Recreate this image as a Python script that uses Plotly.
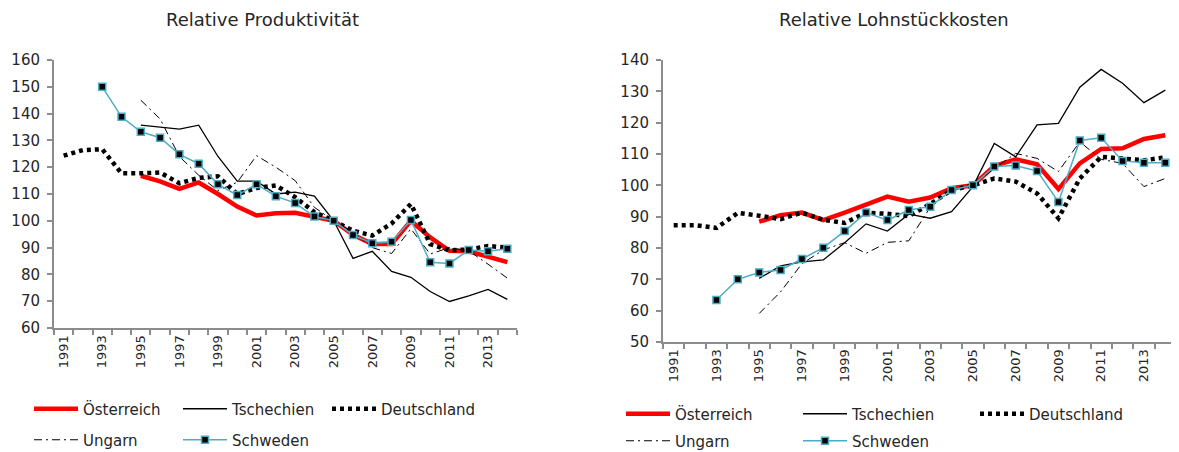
import plotly.graph_objects as go

years = list(range(1991, 2015))
tick_years = list(range(1991, 2015, 2))
N = None

series_names = ["Österreich", "Tschechien", "Deutschland", "Ungarn", "Schweden"]

# Relative Produktivität
prod_at = [N, N, N, N, 116.8, 114.7, 111.9, 114.3, 110.0, 105.3, 102.0, 102.8, 103.0, 101.3,
           100.0, 94.8, 91.3, 91.3, 100.0, 93.8, 88.8, 88.6, 86.6, 84.6]
prod_cz = [N, N, N, N, 135.7, 135.0, 134.2, 135.7, 124.0, 114.8, 114.8, 110.0, 110.7, 109.2,
           100.0, 86.0, 88.6, 81.1, 78.9, 73.6, 69.9, 72.0, 74.4, 70.7]
prod_de = [124.3, 126.4, 126.7, 117.7, 117.7, 118.0, 114.0, 116.0, 116.6, 110.0, 112.2, 113.2,
           108.8, 103.2, 100.0, 96.3, 94.5, 99.0, 106.3, 91.3, 89.0, 89.3, 90.6, 90.0]
prod_hu = [N, N, N, N, 145.0, 138.0, 124.0, 117.0, 111.3, 114.4, 124.3, 120.0, 115.0, 105.0,
           100.0, 95.7, 90.0, 87.8, 97.0, 87.6, 90.0, 88.8, 83.8, 78.6]
prod_se = [N, N, 150.0, 138.8, 133.2, 131.0, 124.8, 121.3, 113.6, 109.6, 113.6, 109.2, 106.6,
           101.6, 100.0, 94.7, 91.6, 92.2, 100.3, 84.5, 84.1, 89.1, 88.6, 89.6]

# Relative Lohnstückkosten
lsk_at = [N, N, N, N, 88.4, 90.5, 91.3, 88.9, 91.3, 93.7, 96.4, 94.8, 96.1, 99.1,
          100.0, 106.2, 108.3, 106.7, 98.8, 107.0, 111.6, 111.8, 114.8, 116.0]
lsk_cz = [N, N, N, N, 70.3, 74.3, 75.6, 76.2, 81.7, 87.7, 85.4, 90.8, 89.5, 91.6,
          99.6, 113.4, 109.1, 119.3, 119.8, 131.3, 137.0, 132.6, 126.4, 130.4]
lsk_de = [87.3, 87.3, 86.4, 91.2, 90.3, 89.2, 91.3, 89.0, 88.0, 91.3, 90.9, 90.2, 94.0, 98.5,
          100.0, 102.2, 101.2, 97.4, 89.5, 102.2, 109.1, 108.6, 108.0, 108.9]
lsk_hu = [N, N, N, N, 59.1, 66.0, 75.0, 79.4, 81.7, 78.3, 81.8, 82.3, 93.0, 98.5,
          100.0, 105.4, 110.2, 108.6, 104.4, 113.9, 108.3, 107.0, 99.6, 102.2]
lsk_se = [N, N, 63.4, 70.0, 72.2, 73.0, 76.5, 80.1, 85.4, 91.3, 88.9, 92.1, 93.2, 98.5,
          100.0, 106.0, 106.3, 104.6, 94.7, 114.3, 115.2, 107.8, 107.2, 107.2]

FONT = "DejaVu Sans"
TXT = "#262626"
AX = "#8c8c8c"
BLUE = "#4bacc6"

styles = [
    dict(mode="lines", line=dict(color="#ff0000", width=4.5)),
    dict(mode="lines", line=dict(color="#000000", width=1.3)),
    dict(mode="lines", line=dict(color="#000000", width=4.5, dash="4px,4px")),
    dict(mode="lines", line=dict(color="#000000", width=1, dash="8px,4px,2px,4px")),
    dict(mode="lines+markers", line=dict(color=BLUE, width=1.5),
         marker=dict(symbol="square", size=7, color="#000000", line=dict(color=BLUE, width=1.5))),
]

fig = go.Figure()

left_data = [prod_at, prod_cz, prod_de, prod_hu, prod_se]
right_data = [lsk_at, lsk_cz, lsk_de, lsk_hu, lsk_se]
legend_rows = ["legend", "legend", "legend", "legend2", "legend2"]
legend_rows_r = ["legend3", "legend3", "legend3", "legend4", "legend4"]

for i, (name, vals) in enumerate(zip(series_names, left_data)):
    fig.add_trace(go.Scatter(x=years, y=vals, name=name, xaxis="x", yaxis="y",
                             legend=legend_rows[i], connectgaps=False, **styles[i]))
for i, (name, vals) in enumerate(zip(series_names, right_data)):
    fig.add_trace(go.Scatter(x=years, y=vals, name=name, xaxis="x2", yaxis="y2",
                             legend=legend_rows_r[i], connectgaps=False, **styles[i]))

# the page body has an 8px margin: lay out in window pixels and shift by it
OFF = 8
W, H = 1179 - OFF, 452 - OFF


def px(x):
    return (x - OFF) / W


def py(y):
    return 1 - (y - OFF) / H


def xaxis(domain):
    return dict(
        domain=domain, range=[1990.5, 2014.5], tickmode="array", tickvals=tick_years,
        ticktext=[str(y) for y in tick_years], tickangle=-90, ticks="", showgrid=False,
        zeroline=False, showline=True, linecolor=AX, linewidth=2,
        tickfont=dict(family=FONT, size=13, color=TXT),
        minor=dict(tickmode="linear", tick0=1990.5, dtick=1, ticks="outside", ticklen=5,
                   tickwidth=1.5, tickcolor=AX, showgrid=False),
    )


def yaxis(domain, rng, anchor):
    return dict(
        domain=domain, range=rng, dtick=10, tick0=0, ticks="outside", ticklen=5, tickwidth=1.5,
        tickcolor=AX, showgrid=False, zeroline=False, showline=True, linecolor=AX, linewidth=2,
        tickfont=dict(family=FONT, size=15, color=TXT), anchor=anchor, ticklabelstandoff=4,
    )


leg_common = dict(orientation="h", xanchor="left", yanchor="middle", itemwidth=44,
                  entrywidthmode="pixels", font=dict(family=FONT, size=15, color=TXT),
                  bgcolor="rgba(0,0,0,0)", tracegroupgap=0, itemclick=False)

fig.update_layout(
    width=W, height=H, margin=dict(l=0, r=0, t=0, b=0, pad=0, autoexpand=False),
    paper_bgcolor="white", plot_bgcolor="white",
    font=dict(family=FONT, color=TXT),
    xaxis=dict(anchor="y", **xaxis([px(54), px(517)])),
    yaxis=yaxis([py(328), py(60)], [60, 160], "x"),
    xaxis2=dict(anchor="y2", **xaxis([px(663), px(1176)])),
    yaxis2=yaxis([py(342), py(60)], [50, 140], "x2"),
    legend=dict(x=px(29), y=py(409), entrywidth=90, **leg_common),
    legend2=dict(x=px(29), y=py(440), entrywidth=90, **leg_common),
    legend3=dict(x=px(621), y=py(414), entrywidth=118, **leg_common),
    legend4=dict(x=px(621), y=py(441), entrywidth=118, **leg_common),
    annotations=[
        dict(text="Relative Produktivität", x=px(262), y=py(20), xref="paper", yref="paper",
             xanchor="center", yanchor="middle", showarrow=False,
             font=dict(family=FONT, size=18, color=TXT)),
        dict(text="Relative Lohnstückkosten", x=px(894), y=py(20), xref="paper", yref="paper",
             xanchor="center", yanchor="middle", showarrow=False,
             font=dict(family=FONT, size=18, color=TXT)),
    ],
)

fig.write_html("out.html")
